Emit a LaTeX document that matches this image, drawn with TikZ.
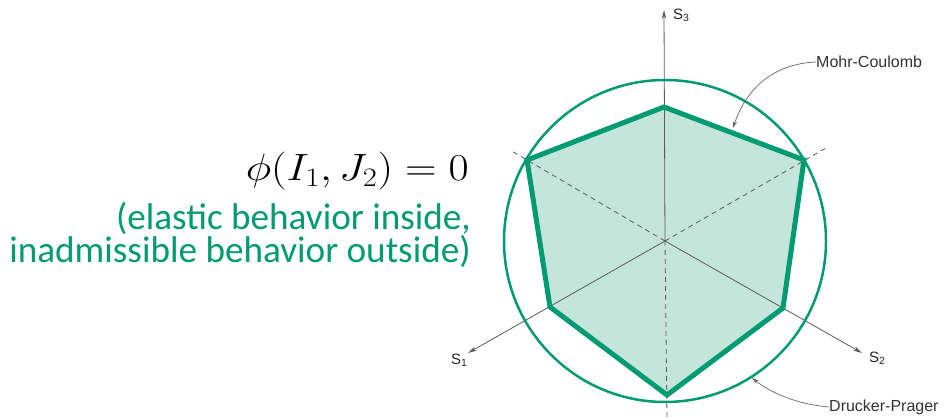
\RequirePackage{fix-cm}
\documentclass[tikz,border=0pt]{standalone}
\usepackage{fontspec}
\newfontfamily\carlito{Carlito}
\newfontfamily\helv{Liberation Sans}
\usetikzlibrary{arrows.meta}
\definecolor{mcgreen}{RGB}{0,155,115}
\definecolor{mcfill}{RGB}{196,230,218}
\definecolor{axisgray}{RGB}{90,90,90}
\tikzset{
  axisline/.style={draw=axisgray, line width=0.8pt},
  axisarrow/.style={axisline, -{Stealth[length=9pt,width=4.5pt]}, shorten >=0pt},
  dashline/.style={draw=axisgray, line width=0.8pt, dash pattern=on 5pt off 4pt},
  axislabel/.style={font=\helv\fontsize{15}{16}\selectfont, text=black!85, inner sep=0pt, anchor=west},
  leader/.style={draw=black!60, line width=0.7pt, -{Stealth[length=7pt,width=4pt,fill=black]}},
  leaderlabel/.style={font=\helv\fontsize{16}{18}\selectfont, text=black!80, inner sep=0pt, anchor=west},
  greentext/.style={font=\carlito\fontsize{37.2}{33}\selectfont, text=mcgreen, inner sep=0pt, align=right, anchor=base east},
}
\begin{document}
\begin{tikzpicture}[x=1pt,y=-1pt]
\useasboundingbox (0,0) rectangle (951,419);
% centre and vertices
\coordinate (O) at (665,241);
\coordinate (vt) at (664,107);
\coordinate (vur) at (804,160);
\coordinate (vlr) at (783,308);
\coordinate (vb) at (667,395);
\coordinate (vll) at (550,307);
\coordinate (vul) at (527,160);
% axis ends
\coordinate (s3tip) at (664,10);
\coordinate (s1tip) at (468,353);
\coordinate (s2tip) at (862,353);
\coordinate (d3) at (667,419);
\coordinate (d1) at (510,150);
\coordinate (d2) at (826,148);
% fill
\fill[mcfill] (vt) -- (vur) -- (vlr) -- (vb) -- (vll) -- (vul) -- cycle;
% axes
\draw[dashline] (O) -- (d3);
\draw[dashline] (O) -- (d1);
\draw[dashline] (O) -- (d2);
\draw[axisarrow] (O) -- (s3tip);
\draw[axisarrow] (O) -- (s1tip);
\draw[axisarrow] (O) -- (s2tip);
% Mohr-Coulomb hexagon
\draw[mcgreen, line width=5pt, line join=miter] (vt) -- (vur) -- (vlr) -- (vb) -- (vll) -- (vul) -- cycle;
% Drucker-Prager circle
\node[draw=mcgreen, line width=2.5pt, circle, minimum size=322pt, inner sep=0pt] (dp) at (O) {};
% axis labels
\node[axislabel] (l3) at (673,15) {S\textsubscript{3}};
\node[axislabel] (l1) at (451,360) {S\textsubscript{1}};
\node[axislabel] (l2) at (869,358) {S\textsubscript{2}};
% leaders
\node[leaderlabel] (mc) at (816,62) {Mohr-Coulomb};
\node[leaderlabel] (dpl) at (829,407) {Drucker-Prager};
\coordinate (mctip) at (733,128);
\coordinate (dptip) at (752,378);
\draw[leader] (mc.west) .. controls (770,64) and (745,92) .. (mctip);
\draw[leader] (dpl.west) .. controls (795,404) and (770,392) .. (dptip);
% left text
\node[inner sep=0pt, anchor=base east, font=\fontsize{38}{44}\selectfont] (eq) at (469,181) {\scalebox{1.15}[1]{$\phi(I_1,J_2)=0$}};
\node[greentext] (g) at (471,263) {(elastic behavior inside,\\inadmissible behavior outside)};
\end{tikzpicture}
\end{document}
